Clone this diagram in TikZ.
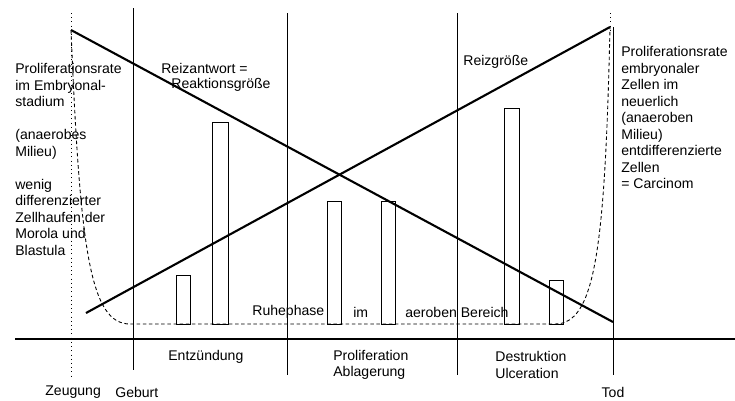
\documentclass[tikz,border=0pt]{standalone}
\usepackage{fontspec}
\setmainfont{Liberation Sans}
\usetikzlibrary{positioning}
\tikzset{
    txt/.style={font=\fontsize{8}{9.4}\selectfont, inner sep=0pt, align=left},
    phase/.style={line width=0.55pt},
    trend/.style={line width=1.2pt},
    bar/.style={line width=0.45pt},
    rate/.style={dash pattern=on 2pt off 1.5pt, line width=0.5pt}
}

\begin{document}
\begin{tikzpicture}[x=0.02cm, y=-0.02cm]
    \useasboundingbox (0,0) rectangle (735,400);

    % time axis and phase borders
    \draw [line width=0.7pt] (15,339) -- (735,339);
    \draw [dotted] (71,13) -- (71,378);
    \draw [phase] (133,8) -- (133,370);
    \draw [phase] (287,13) -- (287,375);
    \draw [phase] (457,13) -- (457,375);
    \draw [phase] (613,27) -- (613,375);
    \draw [dotted] (610,13) -- (610,30);

    % proliferation rate
    \draw [rate] (71,30) .. controls (80,250) and (90,324) .. (130,324) -- (555,324)
        .. controls (595,324) and (605,250) .. (610,27);

    % bars
    \draw [bar] (176,324) rectangle (190,275);
    \draw [bar] (212,324) rectangle (228,122);
    \draw [bar] (327,324) rectangle (341,201);
    \draw [bar] (381,324) rectangle (395,201);
    \draw [bar] (504,324) rectangle (519,108);
    \draw [bar] (549,324) rectangle (563,280);

    % the two crossing lines
    \coordinate (antwortA) at (71,30);
    \coordinate (antwortB) at (613,322);
    \coordinate (reizA) at (86,313);
    \coordinate (reizB) at (610,27);
    \draw [trend] (antwortA) -- (antwortB);
    \draw [trend] (reizA) -- (reizB);

    % labels
    \node (links) [txt, anchor=north west] at (15,63) {Proliferationsrate\\im Embryonal-\\stadium\\[9.4pt](anaerobes\\Milieu)\\[9.4pt]wenig\\differenzierter\\Zellhaufen der\\Morola und\\Blastula};
    \node (rechts) [txt, anchor=north west] at (621,46) {Proliferationsrate\\embryonaler\\Zellen im\\neuerlich\\(anaeroben\\Milieu)\\entdifferenzierte\\Zellen\\= Carcinom};
    \node (antwort) [txt, anchor=west] at (161,68) {Reizantwort =};
    \node (reaktion) [txt, anchor=west] at (171,85) {Reaktionsgröße};
    \node (reiz) [txt, anchor=west] at (463,62) {Reizgröße};

    \node (ruhe) [txt, anchor=west] at (252,312) {Ruhephase};
    \node (im) [txt, anchor=west] at (353,312) {im};
    \node (aerob) [txt, anchor=west] at (405,312) {aeroben Bereich};

    \node (entz) [txt, anchor=west] at (168,357) {Entzündung};
    \node (prolif) [txt, anchor=west] at (333,365) {Proliferation\\Ablagerung};
    \node (destr) [txt, anchor=west] at (495,365) {Destruktion\\Ulceration};

    \node (zeugung) [txt, anchor=west] at (45,392) {Zeugung};
    \node (geburt) [txt, anchor=west] at (115,392) {Geburt};
    \node (tod) [txt] at (613,392) {Tod};
\end{tikzpicture}
\end{document}
